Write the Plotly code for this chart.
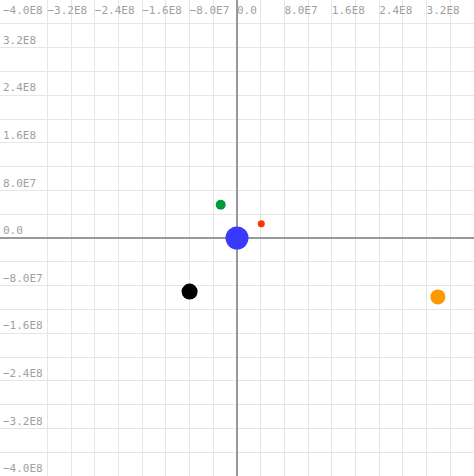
import plotly.graph_objects as go

# Data
names = ["Sun", "Green", "Red", "Black", "Orange"]
xs = [0.0, -2.75e7, 4.1e7, -8.0e7, 3.39e8]
ys = [0.0, 5.6e7, 2.4e7, -9.0e7, -9.9e7]
sizes = [23, 10, 7, 16, 15]
colors = ["#3a3aff", "#009a3e", "#ff3300", "#000000", "#ff9900"]

tick_vals = [-4.0e8, -3.2e8, -2.4e8, -1.6e8, -8.0e7, 0.0, 8.0e7, 1.6e8, 2.4e8, 3.2e8]
tick_text = ["\u22124.0E8", "\u22123.2E8", "\u22122.4E8", "\u22121.6E8", "\u22128.0E7",
             "0.0", "8.0E7", "1.6E8", "2.4E8", "3.2E8"]

fig = go.Figure()
fig.add_trace(go.Scatter(
    x=xs, y=ys, mode="markers",
    marker=dict(size=sizes, color=colors, opacity=1, line=dict(width=0)),
    opacity=1,
    text=names, hoverinfo="text", showlegend=False,
))

tickfont = dict(family="DejaVu Sans Mono", size=11, color="#a0a0a0")
common = dict(
    range=[-4.0e8, 4.0e8],
    showgrid=True, gridcolor="#e6e6e6", gridwidth=1,
    minor=dict(dtick=4.0e7, tick0=0, showgrid=True, gridcolor="#e6e6e6", gridwidth=1),
    zeroline=True, zerolinecolor="#999999", zerolinewidth=1.5,
    showline=False, ticks="", tickfont=tickfont, tickangle=0,
    fixedrange=True,
)

fig.update_layout(
    width=474, height=476,
    margin=dict(l=0, r=0, t=0, b=0),
    paper_bgcolor="white", plot_bgcolor="white",
    xaxis=dict(side="top", ticklabelposition="inside right",
               tickvals=tick_vals, ticktext=tick_text, **common),
    yaxis=dict(ticklabelposition="inside top",
               tickvals=tick_vals, ticktext=tick_text, **common),
)

# Edge label on the x axis that plotly hides at the range boundary
fig.add_annotation(
    x=tick_vals[0], xref="x", y=1, yref="paper",
    text=tick_text[0], showarrow=False,
    xanchor="left", yanchor="top", xshift=1, yshift=-2,
    font=tickfont,
)

fig.write_html("out.html")
